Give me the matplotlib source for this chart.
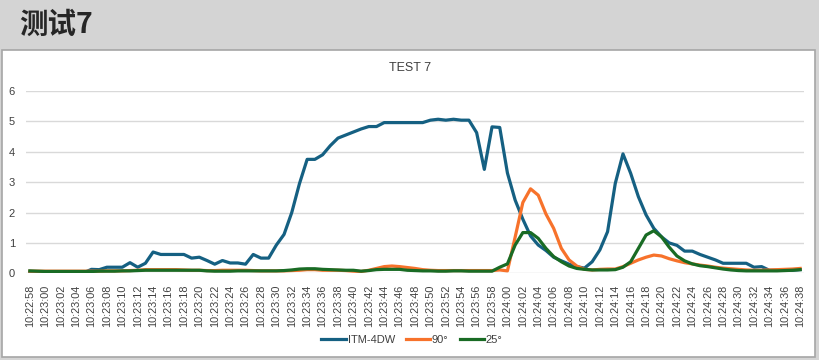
import matplotlib
matplotlib.use('Agg')
import matplotlib.pyplot as plt
import pandas as pd

plt.rcParams['font.family'] = ['Liberation Sans', 'DejaVu Sans']

# 时间轴 10:22:58 ~ 10:24:38, 每秒一个点
times = pd.date_range('2024-01-01 10:22:58', '2024-01-01 10:24:38', freq='s').strftime('%H:%M:%S').tolist()

itm_4dw = [0.02, 0.02, 0.02, 0.02, 0.02, 0.02, 0.02, 0.02, 0.13, 0.12,
           0.2, 0.2, 0.2, 0.35, 0.2, 0.33, 0.7, 0.62, 0.62, 0.62,
           0.62, 0.5, 0.53, 0.42, 0.3, 0.42, 0.34, 0.34, 0.3, 0.62,
           0.5, 0.5, 0.93, 1.28, 2.0, 2.95, 3.75, 3.75, 3.9, 4.2,
           4.45, 4.55, 4.65, 4.75, 4.83, 4.83, 4.96, 4.96, 4.96, 4.96,
           4.96, 4.96, 5.04, 5.07, 5.04, 5.07, 5.04, 5.04, 4.63, 3.42,
           4.82, 4.8, 3.3, 2.41, 1.78, 1.23, 0.93, 0.75, 0.53, 0.41,
           0.3, 0.22, 0.17, 0.38, 0.77, 1.37, 2.96, 3.93, 3.29, 2.52,
           1.92, 1.48, 1.2, 1.0, 0.92, 0.73, 0.73, 0.62, 0.53, 0.44,
           0.33, 0.33, 0.33, 0.33, 0.2, 0.22, 0.1, 0.1, 0.1, 0.1,
           0.12]

deg90 = [0.07, 0.07, 0.07, 0.07, 0.07, 0.07, 0.07, 0.07, 0.07, 0.07,
         0.08, 0.08, 0.08, 0.09, 0.1, 0.12, 0.12, 0.12, 0.12, 0.12,
         0.11, 0.1, 0.1, 0.09, 0.09, 0.1, 0.1, 0.1, 0.1, 0.09,
         0.08, 0.08, 0.08, 0.08, 0.09, 0.1, 0.12, 0.12, 0.1, 0.1,
         0.1, 0.09, 0.07, 0.06, 0.1, 0.16, 0.22, 0.24, 0.22, 0.19,
         0.16, 0.12, 0.1, 0.09, 0.09, 0.09, 0.09, 0.09, 0.09, 0.09,
         0.09, 0.11, 0.08, 1.19, 2.33, 2.78, 2.57, 1.95, 1.48, 0.82,
         0.44, 0.24, 0.13, 0.11, 0.13, 0.14, 0.14, 0.22, 0.33, 0.44,
         0.53, 0.6, 0.57, 0.48, 0.41, 0.35, 0.31, 0.27, 0.24, 0.2,
         0.17, 0.15, 0.13, 0.11, 0.1, 0.1, 0.11, 0.12, 0.13, 0.14,
         0.16]

deg25 = [0.08, 0.07, 0.06, 0.06, 0.06, 0.06, 0.06, 0.06, 0.06, 0.07,
         0.07, 0.07, 0.08, 0.08, 0.09, 0.1, 0.1, 0.1, 0.1, 0.1,
         0.1, 0.1, 0.1, 0.08, 0.07, 0.07, 0.07, 0.08, 0.08, 0.08,
         0.08, 0.08, 0.08, 0.09, 0.11, 0.14, 0.15, 0.15, 0.13, 0.12,
         0.11, 0.1, 0.1, 0.07, 0.09, 0.12, 0.13, 0.13, 0.13, 0.1,
         0.09, 0.08, 0.08, 0.07, 0.07, 0.08, 0.08, 0.07, 0.07, 0.07,
         0.07, 0.2, 0.31, 0.93, 1.34, 1.34, 1.15, 0.82, 0.55, 0.38,
         0.24, 0.16, 0.13, 0.11, 0.11, 0.11, 0.12, 0.2, 0.38, 0.82,
         1.26, 1.4, 1.2, 0.86, 0.57, 0.41, 0.31, 0.25, 0.22, 0.18,
         0.14, 0.11, 0.09, 0.08, 0.08, 0.08, 0.08, 0.08, 0.09, 0.1,
         0.12]

W, H = 820, 360
fig = plt.figure(figsize=(W / 100, H / 100), dpi=100)
fig.patch.set_facecolor('#d4d4d4')

# 图表白底框 (放在坐标轴下面)
box = plt.Rectangle((2 / W, 3 / H), 813 / W, 307 / H, transform=fig.transFigure,
                    facecolor='white', edgecolor='#a6a6a6', linewidth=1.2, zorder=-10)
fig.patches.append(box)

fig.text(19 / W, 1 - 25 / H, '测试7', fontsize=20.5, fontweight='bold', color='#262626',
         va='center', ha='left', family=['Noto Sans CJK SC', 'DejaVu Sans'])

ax = fig.add_axes([26 / W, 1 - 273.3 / H, 778 / W, 182.3 / H])
ax.patch.set_alpha(0)
x = list(range(len(times)))
ax.plot(x, itm_4dw, color='#156082', linewidth=2.3, label='ITM-4DW', solid_joinstyle='round')
ax.plot(x, deg90, color='#F7722B', linewidth=2.3, label='90°', solid_joinstyle='round')
ax.plot(x, deg25, color='#196B24', linewidth=2.3, label='25°', solid_joinstyle='round')

ax.set_xlim(-0.5, len(times) - 0.5)
ax.set_ylim(0, 6)
ax.set_yticks(range(0, 7))
ax.set_xticks(x[::2])
ax.set_xticklabels(times[::2], rotation=90, fontsize=7.8, color='#404040')
ax.tick_params(axis='x', length=0, pad=8)
ax.tick_params(axis='y', length=0, pad=8, labelsize=8, labelcolor='#404040')
ax.grid(True, axis='y', color='#d9d9d9', linewidth=1)
ax.set_axisbelow(True)
for s in ax.spines.values():
    s.set_visible(False)

fig.text(410 / W, 1 - 68 / H, 'TEST 7', fontsize=9, color='#404040', ha='center', va='center',
         family=['Liberation Sans Narrow', 'Liberation Sans'])

fig.legend(loc='center', bbox_to_anchor=(412 / W, 1 - 340 / H), ncol=3, frameon=False,
           fontsize=8, handlelength=2.2, handletextpad=0.15, columnspacing=1.0,
           labelcolor='#404040')

plt.savefig('out.png', dpi=100, facecolor=fig.get_facecolor())
plt.close()
